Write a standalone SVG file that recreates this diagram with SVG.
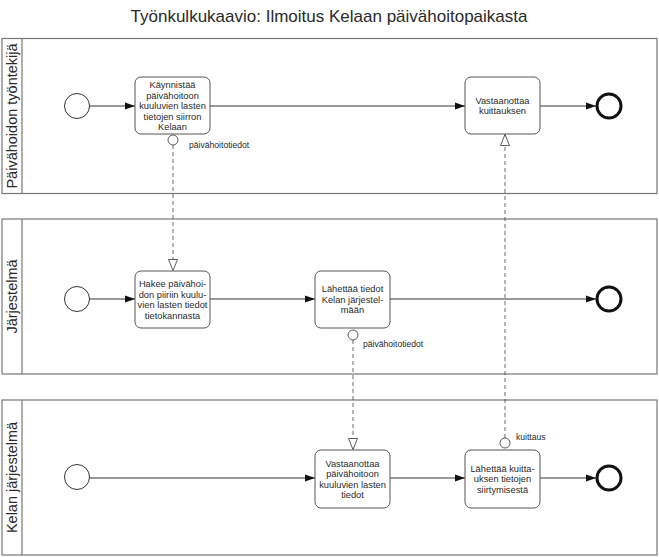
<svg xmlns="http://www.w3.org/2000/svg" width="659" height="557" viewBox="0 0 659 557">
<defs>
<style>
.lane{fill:#fff;stroke:#777;stroke-width:1.2}
.task{fill:#fff;stroke:#555;stroke-width:1}
.start{fill:#fff;stroke:#333;stroke-width:1}
.end{fill:#fff;stroke:#111;stroke-width:3}
.msg{fill:#fff;stroke:#333;stroke-width:0.8}
.flow{fill:none;stroke:#333;stroke-width:1}
.mflow{fill:none;stroke:#444;stroke-width:0.8;stroke-dasharray:4,3}
text{font-family:"Liberation Sans",Arial,sans-serif;fill:#2a2a2a}
.t{font-size:9.3px;text-anchor:middle}
.lbl{font-size:8.6px}
.lanet{font-size:14.5px;text-anchor:middle}
</style>
<marker id="arr" viewBox="0 0 10 10" refX="10" refY="5" markerWidth="10" markerHeight="10" markerUnits="userSpaceOnUse" orient="auto">
<path d="M0,1.5 L10,5 L0,8.5 Z" fill="#111"/>
</marker>
<marker id="tri" viewBox="0 0 12 12" refX="12" refY="6" markerWidth="12" markerHeight="12" markerUnits="userSpaceOnUse" orient="auto">
<path d="M0.5,1.5 L11.5,6 L0.5,10.5 Z" fill="#fff" stroke="#333" stroke-width="0.8"/>
</marker>
</defs>
<rect width="659" height="557" fill="#fff"/>
<text x="329" y="22" font-size="17" text-anchor="middle">Työnkulkukaavio: Ilmoitus Kelaan päivähoitopaikasta</text>

<g id="lane1">
<rect class="lane" x="2" y="38.5" width="655" height="155"/>
<line x1="22" y1="38.5" x2="22" y2="193.5" stroke="#777" stroke-width="1.2"/>
<text class="lanet" transform="translate(17,116) rotate(-90)">Päivähoidon työntekijä</text>
</g>
<g id="lane2">
<rect class="lane" x="2" y="219" width="655" height="155"/>
<line x1="22" y1="219" x2="22" y2="374" stroke="#777" stroke-width="1.2"/>
<text class="lanet" transform="translate(17,296.5) rotate(-90)">Järjestelmä</text>
</g>
<g id="lane3">
<rect class="lane" x="2" y="400" width="655" height="155"/>
<line x1="22" y1="400" x2="22" y2="555" stroke="#777" stroke-width="1.2"/>
<text class="lanet" transform="translate(17,477.5) rotate(-90)">Kelan järjestelmä</text>
</g>

<g id="connectors">
<line class="flow" x1="89.5" y1="106" x2="135" y2="106" marker-end="url(#arr)"/>
<line class="flow" x1="210" y1="106" x2="465" y2="106" marker-end="url(#arr)"/>
<line class="flow" x1="540" y1="106" x2="596" y2="106" marker-end="url(#arr)"/>
<line class="flow" x1="89.5" y1="299" x2="135" y2="299" marker-end="url(#arr)"/>
<line class="flow" x1="210" y1="299" x2="315" y2="299" marker-end="url(#arr)"/>
<line class="flow" x1="390" y1="299" x2="596" y2="299" marker-end="url(#arr)"/>
<line class="flow" x1="89.5" y1="478" x2="315" y2="478" marker-end="url(#arr)"/>
<line class="flow" x1="390" y1="478" x2="465" y2="478" marker-end="url(#arr)"/>
<line class="flow" x1="540" y1="478" x2="596" y2="478" marker-end="url(#arr)"/>
<line class="mflow" x1="173" y1="145" x2="173" y2="271" marker-end="url(#tri)"/>
<line class="mflow" x1="353" y1="340" x2="353" y2="450" marker-end="url(#tri)"/>
<line class="mflow" x1="505" y1="438" x2="505" y2="134" marker-end="url(#tri)"/>
</g>

<g id="start1"><circle class="start" cx="77" cy="106" r="12.5"/></g>
<g id="task1">
<rect class="task" x="135" y="77" width="75" height="57" rx="6"/>
<text class="t"><tspan x="172.5" y="88.3">Käynnistää</tspan><tspan x="172.5" y="98.8">päivähoitoon</tspan><tspan x="172.5" y="109.3">kuuluvien lasten</tspan><tspan x="172.5" y="119.8">tietojen siirron</tspan><tspan x="172.5" y="130.3">Kelaan</tspan></text>
</g>
<g id="msg1">
<circle class="msg" cx="173" cy="140" r="5"/>
<text class="lbl" x="189" y="148">päivähoitotiedot</text>
</g>
<g id="task2">
<rect class="task" x="465" y="77" width="75" height="57" rx="6"/>
<text class="t"><tspan x="502.5" y="103.5">Vastaanottaa</tspan><tspan x="502.5" y="114">kuittauksen</tspan></text>
</g>
<g id="end1"><circle class="end" cx="609" cy="106" r="12"/></g>

<g id="start2"><circle class="start" cx="77" cy="299" r="12.5"/></g>
<g id="task3">
<rect class="task" x="135" y="271" width="75" height="57" rx="6"/>
<text class="t"><tspan x="172.5" y="287">Hakee päivähoi-</tspan><tspan x="172.5" y="297.5">don piiriin kuulu-</tspan><tspan x="172.5" y="308">vien lasten tiedot</tspan><tspan x="172.5" y="318.5">tietokannasta</tspan></text>
</g>
<g id="task4">
<rect class="task" x="315" y="271" width="75" height="57" rx="6"/>
<text class="t"><tspan x="352.5" y="292.3">Lähettää tiedot</tspan><tspan x="352.5" y="302.8">Kelan järjestel-</tspan><tspan x="352.5" y="313.3">mään</tspan></text>
</g>
<g id="msg2">
<circle class="msg" cx="353" cy="335" r="5"/>
<text class="lbl" x="363" y="347">päivähoitotiedot</text>
</g>
<g id="end2"><circle class="end" cx="609" cy="299" r="12"/></g>

<g id="start3"><circle class="start" cx="77" cy="477" r="12.5"/></g>
<g id="task5">
<rect class="task" x="315" y="450" width="75" height="58" rx="6"/>
<text class="t"><tspan x="352.5" y="466.5">Vastaanottaa</tspan><tspan x="352.5" y="477">päivähoitoon</tspan><tspan x="352.5" y="487.5">kuuluvien lasten</tspan><tspan x="352.5" y="498">tiedot</tspan></text>
</g>
<g id="task6">
<rect class="task" x="465" y="450" width="75" height="58" rx="6"/>
<text class="t"><tspan x="502.5" y="471.8">Lähettää kuitta-</tspan><tspan x="502.5" y="482.3">uksen tietojen</tspan><tspan x="502.5" y="492.8">siirtymisestä</tspan></text>
</g>
<g id="msg3">
<circle class="msg" cx="505" cy="443" r="5"/>
<text class="lbl" x="516" y="440">kuittaus</text>
</g>
<g id="end3"><circle class="end" cx="609" cy="478" r="12"/></g>
</svg>
